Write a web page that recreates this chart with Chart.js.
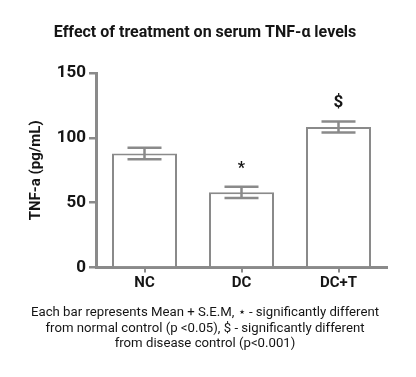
<!DOCTYPE html>
<html lang="en">
<head>
    <meta charset="UTF-8">
    <title>Effect of treatment on serum TNF-α levels</title>
    <script src="https://cdn.jsdelivr.net/npm/chart.js"></script>
    <style>
        html, body { margin: 0; padding: 0; background: #fff; }
        #wrap { width: 416px; height: 377px; }
    </style>
</head>
<body>
    <div id="wrap"><canvas id="tnfChart" width="416" height="377"></canvas></div>

    <script>
        // data
        const groups = ['NC', 'DC', 'DC+T'];
        const meanTNF = [88, 58, 108.5];
        const semTNF = [4.5, 4.3, 4.2];
        const sigMarks = ['', '*', '$'];
        const yTicks = [0, 50, 100, 150];

        const axisGrey = '#8a8a8a';
        const ink = '#151515';

        // error bars (mean + S.E.M) and significance marks
        const errorBars = {
            id: 'errorBars',
            afterDatasetsDraw(chart) {
                const ctx = chart.ctx;
                const x = chart.scales.x, y = chart.scales.y;
                ctx.save();
                ctx.strokeStyle = axisGrey;
                ctx.lineWidth = 2.5;
                groups.forEach((g, i) => {
                    const cx = x.getPixelForValue(i);
                    const hi = y.getPixelForValue(meanTNF[i] + semTNF[i]);
                    const lo = y.getPixelForValue(meanTNF[i] - semTNF[i]);
                    const half = 17;
                    ctx.beginPath();
                    ctx.moveTo(cx, hi); ctx.lineTo(cx, lo);
                    ctx.moveTo(cx - half, hi); ctx.lineTo(cx + half, hi);
                    ctx.moveTo(cx - half, lo); ctx.lineTo(cx + half, lo);
                    ctx.stroke();
                    if (sigMarks[i]) {
                        ctx.fillStyle = ink;
                        ctx.textAlign = 'center';
                        ctx.textBaseline = 'middle';
                        if (sigMarks[i] === '*') {
                            ctx.font = 'bold 16px Roboto';
                            ctx.fillText('*', cx, hi - 18);
                        } else {
                            ctx.font = 'bold 17px Roboto';
                            ctx.fillText('$', cx, hi - 19);
                        }
                    }
                });
                ctx.restore();
            }
        };

        new Chart(document.getElementById('tnfChart'), {
            type: 'bar',
            data: {
                labels: groups,
                datasets: [{
                    data: meanTNF,
                    backgroundColor: '#ffffff',
                    borderColor: axisGrey,
                    borderWidth: 2,
                    borderSkipped: 'bottom',
                    categoryPercentage: 0.67,
                    barPercentage: 1
                }]
            },
            options: {
                responsive: false,
                animation: false,
                layout: { padding: { left: 23, right: 29, top: 0, bottom: 25 } },
                plugins: {
                    legend: { display: false },
                    tooltip: { enabled: false },
                    title: {
                        display: true,
                        text: 'Effect of treatment on serum TNF-α levels',
                        color: ink,
                        font: { family: 'Roboto', size: 16, weight: 'bold' },
                        padding: { top: 23, bottom: 31 }
                    },
                    subtitle: {
                        display: true,
                        position: 'bottom',
                        text: [
                            'Each bar represents Mean + S.E.M, ⋆ - significantly different',
                            'from normal control (p <0.05), $ - significantly different',
                            'from disease control (p<0.001)'
                        ],
                        color: ink,
                        font: { family: 'Roboto', size: 13.2 },
                        lineHeight: 1.3,
                        padding: { top: 10, bottom: 0 }
                    }
                },
                scales: {
                    x: {
                        offset: true,
                        border: { color: axisGrey, width: 3 },
                        grid: { offset: false, drawOnChartArea: false, color: axisGrey, lineWidth: 2, tickLength: 5 },
                        ticks: { color: ink, font: { family: 'Roboto', size: 15, weight: 'bold' }, padding: 2 }
                    },
                    y: {
                        min: 0,
                        max: 150,
                        afterBuildTicks(scale) {
                            scale.ticks = yTicks.map(v => ({ value: v }));
                        },
                        border: { color: axisGrey, width: 3 },
                        grid: { drawOnChartArea: false, color: axisGrey, lineWidth: 2.5, tickLength: 7 },
                        ticks: { color: ink, font: { family: 'Roboto', size: 17, weight: 'bold' }, padding: 3 },
                        title: {
                            display: true,
                            text: 'TNF-a (pg/mL)',
                            color: ink,
                            font: { family: 'Roboto', size: 15, weight: 'bold' },
                            padding: { top: 4, bottom: 4 }
                        },
                        afterFit(scale) { scale.width = 73; }
                    }
                }
            },
            plugins: [errorBars]
        });
    </script>
</body>
</html>
